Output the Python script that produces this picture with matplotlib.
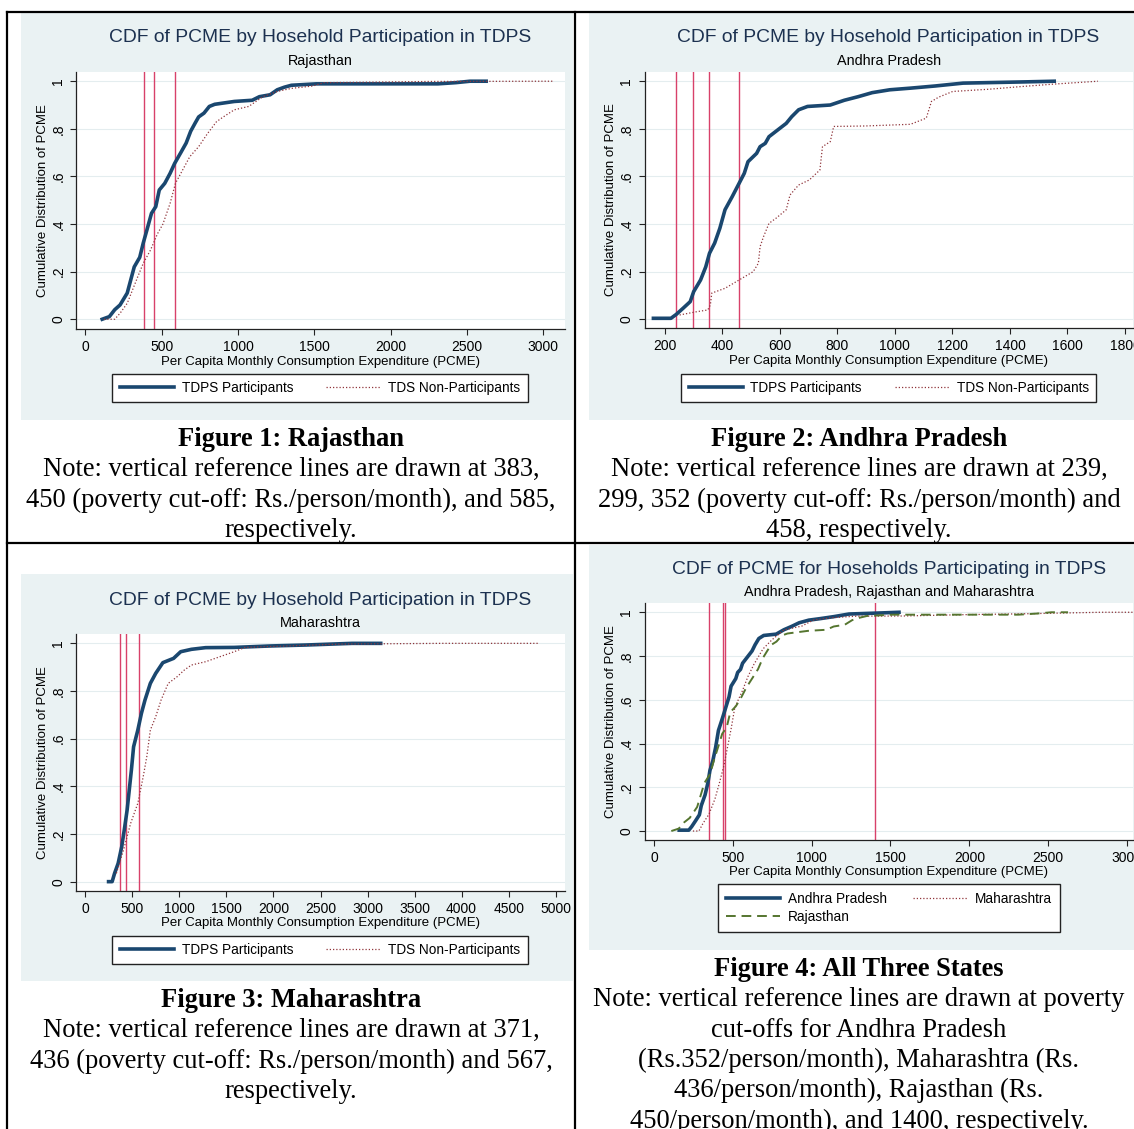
import matplotlib
matplotlib.use("Agg")
import matplotlib.pyplot as plt
from matplotlib.patches import Rectangle
from matplotlib.lines import Line2D

W, H = 1134, 1129

# ---- data (PCME, cumulative share) ----
raj_tdps_x = [110, 157, 192, 227, 274, 297, 320, 356, 379, 403, 433, 461, 484, 520, 555, 585,
              625, 660, 690, 718, 742, 777, 812, 847, 976, 1093, 1140, 1210, 1257, 1304, 1350,
              1514, 2310, 2427, 2520, 2626]
raj_tdps_y = [0.0, 0.011, 0.04, 0.06, 0.11, 0.165, 0.22, 0.26, 0.32, 0.375, 0.445, 0.473, 0.543,
              0.571, 0.613, 0.655, 0.70, 0.74, 0.79, 0.823, 0.85, 0.866, 0.894, 0.903, 0.915,
              0.92, 0.935, 0.943, 0.964, 0.975, 0.983, 0.989, 0.989, 0.994, 1.0, 1.0]
raj_non_x = [122, 192, 227, 274, 344, 379, 426, 473, 508, 555, 590, 637, 684, 742, 800, 859,
             906, 976, 1070, 1163, 1257, 1350, 1491, 1561, 2263, 3070]
raj_non_y = [0.0, 0.0, 0.025, 0.067, 0.18, 0.235, 0.29, 0.36, 0.40, 0.487, 0.571, 0.627, 0.683,
             0.725, 0.78, 0.83, 0.851, 0.88, 0.894, 0.935, 0.957, 0.97, 0.98, 0.994, 0.999, 1.0]

ap_tdps_x = [160, 221, 239, 263, 288, 300, 324, 342, 355, 373, 391, 409, 434, 458, 476, 489,
             519, 531, 549, 562, 592, 622, 641, 665, 696, 775, 824, 872, 921, 982, 1055, 1140,
             1237, 1444, 1554]
ap_tdps_y = [0.004, 0.004, 0.02, 0.046, 0.074, 0.116, 0.165, 0.22, 0.277, 0.32, 0.382, 0.46,
             0.515, 0.571, 0.613, 0.662, 0.697, 0.725, 0.739, 0.767, 0.795, 0.823, 0.851, 0.88,
             0.894, 0.90, 0.92, 0.935, 0.952, 0.964, 0.971, 0.98, 0.992, 0.997, 1.0]
ap_non_x = [251, 312, 349, 358, 363, 409, 458, 507, 525, 531, 543, 562, 586, 622, 635, 665,
            702, 739, 748, 775, 787, 897, 1054, 1109, 1127, 1152, 1201, 1323, 1444, 1566, 1706]
ap_non_y = [0.018, 0.032, 0.039, 0.06, 0.11, 0.13, 0.165, 0.20, 0.235, 0.305, 0.347, 0.403,
            0.424, 0.46, 0.522, 0.564, 0.585, 0.627, 0.725, 0.746, 0.81, 0.812, 0.819, 0.845,
            0.915, 0.933, 0.957, 0.966, 0.978, 0.989, 1.0]

mh_tdps_x = [247, 285, 311, 349, 387, 414, 444, 471, 490, 513, 558, 596, 634, 691, 748, 824,
             938, 1014, 1128, 1279, 1583, 1963, 2342, 2836, 3140]
mh_tdps_y = [0.0, 0.0, 0.035, 0.077, 0.147, 0.217, 0.30, 0.40, 0.47, 0.566, 0.636, 0.706,
             0.762, 0.832, 0.874, 0.919, 0.937, 0.965, 0.975, 0.982, 0.983, 0.989, 0.993, 1.0, 1.0]
mh_non_x = [330, 406, 482, 558, 615, 653, 691, 748, 805, 881, 976, 1052, 1128, 1279, 1431,
            1583, 1697, 2153, 2722, 3785, 4810]
mh_non_y = [0.035, 0.133, 0.245, 0.329, 0.44, 0.524, 0.636, 0.692, 0.762, 0.832, 0.86, 0.888,
            0.909, 0.923, 0.944, 0.965, 0.983, 0.989, 0.997, 1.0, 1.0]

raj_refs = [383, 450, 585]
ap_refs = [239, 299, 352, 458]
mh_refs = [371, 436, 567]
all_refs = [352, 436, 450, 1400]

raj_xticks = [0, 500, 1000, 1500, 2000, 2500, 3000]
ap_xticks = [200, 400, 600, 800, 1000, 1200, 1400, 1600, 1800]
mh_xticks = [0, 500, 1000, 1500, 2000, 2500, 3000, 3500, 4000, 4500, 5000]
all_xticks = [0, 500, 1000, 1500, 2000, 2500, 3000]
y_ticks = [0, 0.2, 0.4, 0.6, 0.8, 1.0]
y_labels = ['0', '.2', '.4', '.6', '.8', '1']

title_one = 'CDF of PCME by Hosehold Participation in TDPS'
title_all = 'CDF of PCME for Hoseholds Participating in TDPS'
xlabel = 'Per Capita Monthly Consumption Expenditure (PCME)'
ylabel = 'Cumulative Distribution of PCME'

captions = [
    (291, 446, ['Figure 1: Rajasthan',
                'Note: vertical reference lines are drawn at 383,',
                '450 (poverty cut-off: Rs./person/month), and 585,',
                'respectively.']),
    (859, 446, ['Figure 2: Andhra Pradesh',
                'Note: vertical reference lines are drawn at 239,',
                '299, 352 (poverty cut-off: Rs./person/month) and',
                '458, respectively.']),
    (291, 1007, ['Figure 3: Maharashtra',
                 'Note: vertical reference lines are drawn at 371,',
                 '436 (poverty cut-off: Rs./person/month) and 567,',
                 'respectively.']),
    (859, 976, ['Figure 4: All Three States',
                'Note: vertical reference lines are drawn at poverty',
                'cut-offs for Andhra Pradesh',
                '(Rs.352/person/month), Maharashtra (Rs.',
                '436/person/month), Rajasthan (Rs.',
                '450/person/month), and 1400, respectively.']),
]

NAVY = '#1a476f'
MAROON = '#90353b'
GREEN = '#55752f'
BG = '#eaf2f3'
REF = '#d8416a'
TITLE_C = '#1c3150'
SANS = 'Liberation Sans'
SERIF = 'Liberation Serif'
FS = 9.5


def frac_rect(x0, y0, x1, y1):
    return [x0 / W, 1 - y1 / H, (x1 - x0) / W, (y1 - y0) / H]


def make_axes(fig, box, xlim, ylim, xticks):
    ax = fig.add_axes(frac_rect(*box))
    ax.set_xlim(xlim)
    ax.set_ylim(ylim)
    ax.set_xticks(xticks)
    ax.set_xticklabels([str(t) for t in xticks], fontfamily=SANS)
    ax.set_yticks(y_ticks)
    ax.set_yticklabels(y_labels, rotation=90, va='center', fontfamily=SANS)
    for s in ['top', 'right']:
        ax.spines[s].set_visible(False)
    for s in ['left', 'bottom']:
        ax.spines[s].set_linewidth(0.9)
        ax.spines[s].set_color('#222222')
    ax.tick_params(direction='out', length=4, width=0.8, labelsize=10, pad=4, colors='#222222',
                   labelcolor='black')
    ax.grid(axis='y', color='#e4edef', lw=0.8)
    ax.set_axisbelow(True)
    ax.set_xlabel(xlabel, fontsize=FS, fontfamily=SANS, labelpad=1)
    ax.set_ylabel(ylabel, fontsize=FS, fontfamily=SANS, labelpad=2)
    return ax


def titles(fig, cx, ty, sy, title, sub):
    fig.text(cx / W, 1 - ty / H, title, ha='center', va='center', fontsize=13.9,
             fontfamily=SANS, color=TITLE_C)
    fig.text(cx / W, 1 - sy / H, sub, ha='center', va='center', fontsize=10.4,
             fontfamily=SANS, color='black')


def legend(ax, fig, handles, labels, cx, cy, colsp):
    leg = ax.legend(handles, labels, loc='center', bbox_to_anchor=(cx / W, 1 - cy / H),
                    bbox_transform=fig.transFigure, ncol=2, frameon=True, fancybox=False,
                    edgecolor='#222222', framealpha=1, prop={'family': SANS, 'size': 9.8},
                    handlelength=4.0, handletextpad=0.55, columnspacing=colsp,
                    borderpad=0.55, labelspacing=0.3)
    leg.get_frame().set_linewidth(1.0)
    return leg


def navy_line(ax, x, y):
    return ax.plot(x, y, color=NAVY, lw=2.6, solid_joinstyle='round', zorder=3)[0]


def dot_line(ax, x, y):
    return ax.plot(x, y, color=MAROON, lw=0.9, linestyle=(0, (1, 1.6)), zorder=4)[0]


def refs(ax, vals):
    for v in vals:
        ax.axvline(v, color=REF, lw=1.0, zorder=2)


fig = plt.figure(figsize=(W / 100, H / 100), dpi=100)
fig.patch.set_facecolor('white')

# panel backgrounds
for (x0, y0, x1, y1) in [(21, 13, 573, 420), (589, 13, 1145, 420),
                         (21, 574, 573, 981), (589, 545, 1145, 950)]:
    fig.add_artist(Rectangle((x0 / W, 1 - y1 / H), (x1 - x0) / W, (y1 - y0) / H,
                             transform=fig.transFigure, facecolor=BG, edgecolor='none',
                             zorder=-10))

# Figure 1: Rajasthan
ax1 = make_axes(fig, (76.4, 71.7, 564.6, 329), (-59, 3140), (-0.041, 1.040), raj_xticks)
refs(ax1, raj_refs)
h1 = navy_line(ax1, raj_tdps_x, raj_tdps_y)
h2 = dot_line(ax1, raj_non_x, raj_non_y)
titles(fig, 320, 38, 61, title_one, 'Rajasthan')
legend(ax1, fig, [h1, h2], ['TDPS Participants', 'TDS Non-Participants'], 320, 388, 2.4)

# Figure 2: Andhra Pradesh
ax2 = make_axes(fig, (644.5, 71.7, 1133, 328.3), (129, 1828), (-0.038, 1.040), ap_xticks)
refs(ax2, ap_refs)
h1 = navy_line(ax2, ap_tdps_x, ap_tdps_y)
h2 = dot_line(ax2, ap_non_x, ap_non_y)
titles(fig, 888.6, 38, 61, title_one, 'Andhra Pradesh')
legend(ax2, fig, [h1, h2], ['TDPS Participants', 'TDS Non-Participants'], 888.6, 388, 2.4)

# Figure 3: Maharashtra
ax3 = make_axes(fig, (76.4, 634.3, 564.6, 890.7), (-95, 5095), (-0.038, 1.038), mh_xticks)
refs(ax3, mh_refs)
h1 = navy_line(ax3, mh_tdps_x, mh_tdps_y)
h2 = dot_line(ax3, mh_non_x, mh_non_y)
titles(fig, 320, 600.7, 623.3, title_one, 'Maharashtra')
legend(ax3, fig, [h1, h2], ['TDPS Participants', 'TDS Non-Participants'], 320, 950, 2.4)

# Figure 4: all three states
ax4 = make_axes(fig, (644.5, 603.3, 1133, 840), (-60, 3038), (-0.041, 1.041), all_xticks)
refs(ax4, all_refs)
h_ap = navy_line(ax4, ap_tdps_x, ap_tdps_y)
h_mh = dot_line(ax4, mh_tdps_x, mh_tdps_y)
h_rj = ax4.plot(raj_tdps_x, raj_tdps_y, color=GREEN, lw=1.4, linestyle=(0, (5, 3)), zorder=4)[0]
titles(fig, 888.6, 570, 591.7, title_all, 'Andhra Pradesh, Rajasthan and Maharashtra')
legend(ax4, fig, [h_ap, h_rj, h_mh], ['Andhra Pradesh', 'Rajasthan', 'Maharashtra'],
       889, 908, 1.95)

# captions under each graph
for cx, base, lines in captions:
    for i, line in enumerate(lines):
        fig.text(cx / W, 1 - (base + 30.3 * i) / H, line, ha='center', va='baseline',
                 fontsize=19.1, fontfamily=SERIF,
                 fontweight='bold' if i == 0 else 'normal', color='black')

# table rules
for (x0, y0, x1, y1) in [(7, 12, 1134, 12), (7, 12, 7, 1129), (575, 12, 575, 1129),
                         (7, 543, 1134, 543)]:
    fig.add_artist(Line2D([x0 / W, x1 / W], [1 - y0 / H, 1 - y1 / H], transform=fig.transFigure,
                          color='black', lw=1.6, zorder=20))

fig.savefig('out.png', dpi=100, facecolor='white')
